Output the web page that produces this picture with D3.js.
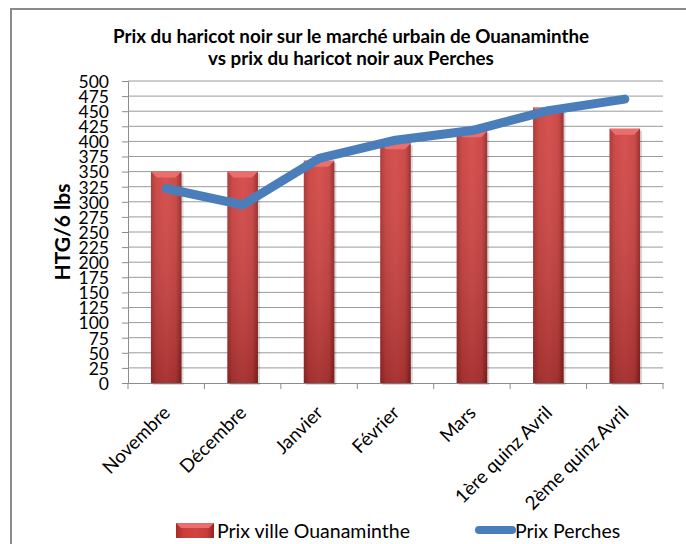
<!DOCTYPE html>
<html>
<head>
<meta charset="utf-8">
<script src="https://cdn.jsdelivr.net/npm/d3@7"></script>
<style>
  body { margin: 0; background: #fff; }
  svg text { font-family: Lato, "Open Sans", sans-serif; fill: #000; }
</style>
</head>
<body>
<div id="chart"></div>
<script>
// data
var categories = ["Novembre", "Décembre", "Janvier", "Février", "Mars", "1ère quinz Avril", "2ème quinz Avril"];
var prixVille = [350, 350, 368, 397, 417, 456, 421];
var prixPerches = [322, 295, 372, 402, 418, 451, 470];
var yTicks = d3.range(0, 501, 25);
var titleLines = ["Prix du haricot noir sur le marché urbain de Ouanaminthe", "vs prix du haricot noir aux Perches"];

var width = 686, height = 544;
var margin = {left: 128, top: 81, right: 23, bottom: 161};

var svg = d3.select("#chart").append("svg").attr("width", width).attr("height", height);

// frame of the chart object (only top and left visible)
svg.append("path").attr("d", "M11,544V9H686").attr("fill", "none").attr("stroke", "#8a8a8a").attr("stroke-width", 2);

var defs = svg.append("defs");
var grad = defs.append("linearGradient").attr("id", "barGrad").attr("x1", 0).attr("x2", 1).attr("y1", 0).attr("y2", 0);
grad.append("stop").attr("offset", "0%").attr("stop-color", "#a62b2a");
grad.append("stop").attr("offset", "18%").attr("stop-color", "#c83c3a");
grad.append("stop").attr("offset", "50%").attr("stop-color", "#d24341");
grad.append("stop").attr("offset", "82%").attr("stop-color", "#c83c3a");
grad.append("stop").attr("offset", "100%").attr("stop-color", "#922221");
var vgrad = defs.append("linearGradient").attr("id", "barShade").attr("x1", 0).attr("x2", 0).attr("y1", 0).attr("y2", 1);
vgrad.append("stop").attr("offset", "0%").attr("stop-color", "#ffffff").attr("stop-opacity", 0.08);
vgrad.append("stop").attr("offset", "100%").attr("stop-color", "#000000").attr("stop-opacity", 0.2);

var x = d3.scaleBand().domain(categories).range([margin.left, width - margin.right]);
var y = d3.scaleLinear().domain([0, 500]).range([height - margin.bottom, margin.top]);

// gridlines + y axis
var yAxis = svg.append("g").attr("transform", "translate(" + margin.left + ",0)")
  .call(d3.axisLeft(y).tickValues(yTicks).tickSize(6).tickPadding(13));
yAxis.select(".domain").attr("stroke", "#8c8c8c");
yAxis.selectAll(".tick line").attr("stroke", "#8c8c8c");
yAxis.selectAll(".tick text").style("font-size", "17.5px").attr("dy", "0.36em");

svg.append("g").selectAll("line").data(yTicks.filter(function(d) { return d > 0; })).enter().append("line")
  .attr("x1", margin.left).attr("x2", width - margin.right)
  .attr("y1", function(d) { return y(d); }).attr("y2", function(d) { return y(d); })
  .attr("stroke", "#9a9a9a").attr("stroke-width", 1);

// x axis
var xAxis = svg.append("g").attr("transform", "translate(0," + y(0) + ")")
  .call(d3.axisBottom(x).tickSize(0).tickFormat(""));
xAxis.select(".domain").attr("stroke", "#8c8c8c");
svg.append("g").selectAll("line").data(d3.range(categories.length + 1)).enter().append("line")
  .attr("x1", function(i) { return margin.left + i * x.step(); })
  .attr("x2", function(i) { return margin.left + i * x.step(); })
  .attr("y1", y(0)).attr("y2", y(0) + 6).attr("stroke", "#8c8c8c");

svg.append("g").selectAll("text").data(categories).enter().append("text")
  .attr("transform", function(d) { return "translate(" + (x(d) + x.bandwidth() / 2 + 5) + "," + (y(0) + 31) + ") rotate(-45)"; })
  .attr("text-anchor", "end")
  .style("font-size", "18.8px")
  .text(function(d) { return d; });

// bars
var bw = x.bandwidth() * 0.4;
var bars = svg.append("g").selectAll("g").data(categories).enter().append("g");
bars.append("rect")
  .attr("x", function(d) { return x(d) + (x.bandwidth() - bw) / 2 + 2; })
  .attr("y", function(d, i) { return y(prixVille[i]) + 2; })
  .attr("width", bw).attr("height", function(d, i) { return y(0) - y(prixVille[i]); })
  .attr("fill", "#000").attr("opacity", 0.15);
bars.append("rect")
  .attr("x", function(d) { return x(d) + (x.bandwidth() - bw) / 2; })
  .attr("y", function(d, i) { return y(prixVille[i]); })
  .attr("width", bw).attr("height", function(d, i) { return y(0) - y(prixVille[i]); })
  .attr("fill", "url(#barGrad)");
bars.append("rect")
  .attr("x", function(d) { return x(d) + (x.bandwidth() - bw) / 2; })
  .attr("y", function(d, i) { return y(prixVille[i]); })
  .attr("width", bw).attr("height", function(d, i) { return y(0) - y(prixVille[i]); })
  .attr("fill", "url(#barShade)");
// bevel on top
bars.append("path")
  .attr("d", function(d, i) {
    var x0 = x(d) + (x.bandwidth() - bw) / 2, t = y(prixVille[i]);
    return "M" + x0 + "," + t + "H" + (x0 + bw) + "L" + (x0 + bw - 6) + "," + (t + 6) + "H" + (x0 + 6) + "Z";
  })
  .attr("fill", "#ec6e6c");

// line
var line = d3.line()
  .x(function(d, i) { return x(categories[i]) + x.bandwidth() / 2; })
  .y(function(d) { return y(d); });
svg.append("path").datum(prixPerches).attr("d", line)
  .attr("fill", "none").attr("stroke", "#4a7ebb").attr("stroke-width", 9)
  .attr("stroke-linecap", "round").attr("stroke-linejoin", "round");

// title
svg.append("g").selectAll("text").data(titleLines).enter().append("text")
  .attr("x", 351).attr("y", function(d, i) { return 43 + i * 22; })
  .attr("text-anchor", "middle").style("font-size", "18.8px").style("font-weight", "bold")
  .text(function(d) { return d; });

// y axis title
svg.append("text")
  .attr("transform", "translate(70,232) rotate(-90)")
  .attr("text-anchor", "middle").style("font-size", "21px").style("font-weight", "bold")
  .text("HTG/6 lbs");

// legend
var lg = svg.append("g");
lg.append("rect").attr("x", 176).attr("y", 523).attr("width", 38).attr("height", 15).attr("fill", "url(#barGrad)");
lg.append("path").attr("d", "M176,523H214L209,528H181Z").attr("fill", "#ec6e6c");
lg.append("text").attr("x", 217).attr("y", 538).style("font-size", "19.5px").text("Prix ville Ouanaminthe");
lg.append("line").attr("x1", 479).attr("x2", 512).attr("y1", 530).attr("y2", 530)
  .attr("stroke", "#4a7ebb").attr("stroke-width", 8).attr("stroke-linecap", "round");
lg.append("text").attr("x", 515).attr("y", 538).style("font-size", "19.5px").text("Prix Perches");
</script>
</body>
</html>
